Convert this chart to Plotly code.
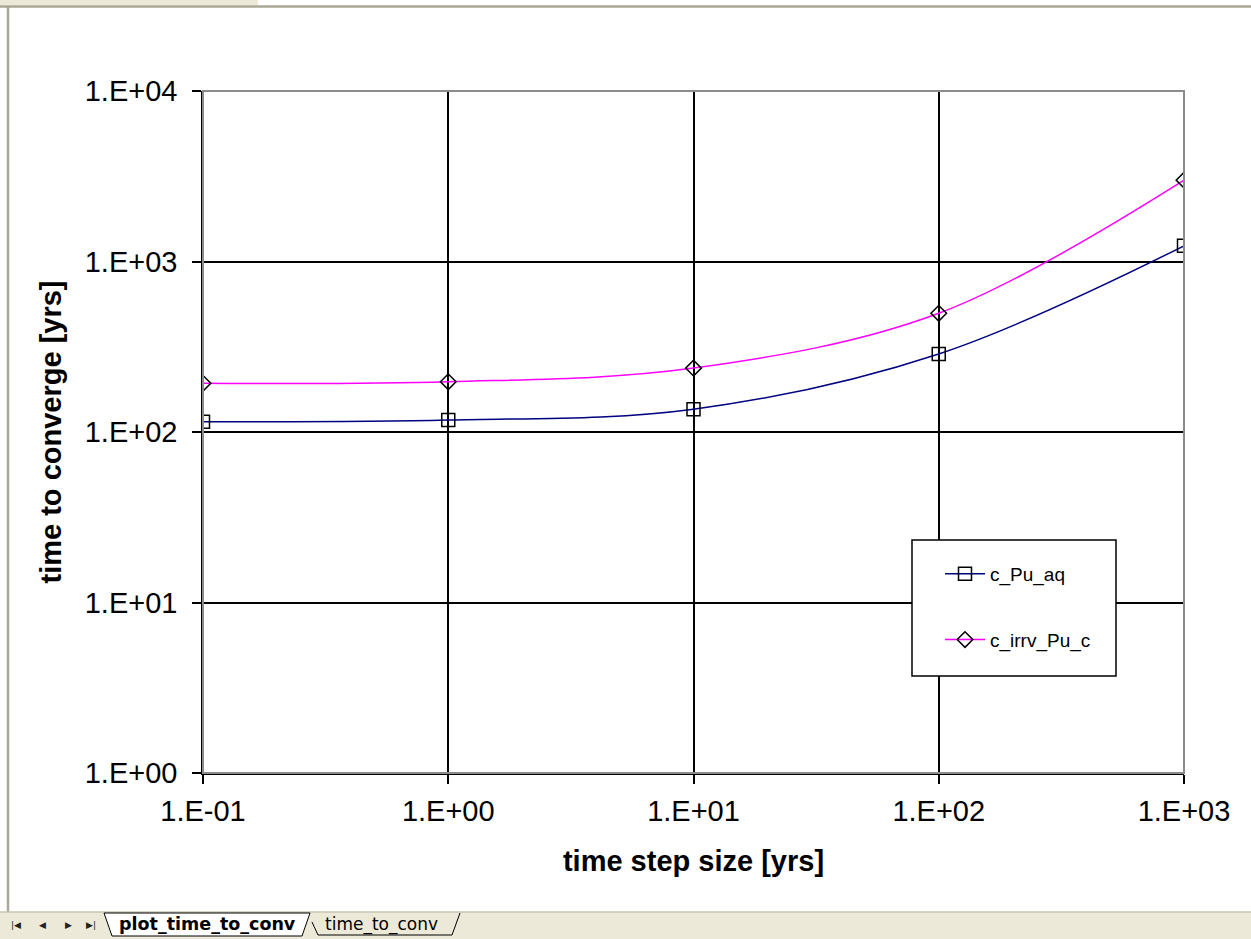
import plotly.graph_objects as go

# ---- data ----
step_size = [0.1, 1, 10, 100, 1000]
c_Pu_aq = [115, 117.5, 136, 287, 1235]
c_irrv_Pu_c = [193, 197, 237, 497, 3000]
series_names = ["c_Pu_aq", "c_irrv_Pu_c"]
x_tickvals = [0.1, 1, 10, 100, 1000]
x_ticktext = ["1.E-01", "1.E+00", "1.E+01", "1.E+02", "1.E+03"]
y_tickvals = [1, 10, 100, 1000, 10000]
y_ticktext = ["1.E+00", "1.E+01", "1.E+02", "1.E+03", "1.E+04"]
x_title = "time step size [yrs]"
y_title = "time to converge [yrs]"
sheet_tabs = ["plot_time_to_conv", "time_to_conv"]
nav_glyphs = ["|◀", "◀", "▶", "▶|"]

W, H = 1251, 939
L, R, T, B = 203, 1184, 91, 773

FONT = "Arial, 'Liberation Sans', sans-serif"
TABFONT = "Tahoma, 'DejaVu Sans', sans-serif"

fig = go.Figure()
fig.add_trace(go.Scatter(
    x=step_size, y=c_Pu_aq, name=series_names[0], legendgroup="a",
    mode="lines+markers", line=dict(color="#000080", width=1.5, shape="spline", smoothing=1),
    marker=dict(symbol="square-open", size=13, color="black", line=dict(width=1.5, color="black")),
))
fig.add_trace(go.Scatter(
    x=step_size, y=c_irrv_Pu_c, name=series_names[1], legendgroup="b",
    mode="lines+markers", line=dict(color="#FF00FF", width=1.5, shape="spline", smoothing=1),
    marker=dict(symbol="diamond-open", size=12, color="black", line=dict(width=1.5, color="black")),
))

def px_x(p):
    return (p - L) / (R - L)

def px_y(p):
    return (B - p) / (B - T)

shapes = []
# plot-area border (grey top/right)
shapes.append(dict(type="rect", xref="paper", yref="paper", x0=0, x1=1, y0=0, y1=1,
                   line=dict(color="#8c8c8c", width=2), layer="above"))
# legend box
shapes.append(dict(type="rect", xref="paper", yref="paper",
                   x0=px_x(912), x1=px_x(1116), y0=px_y(676), y1=px_y(540),
                   fillcolor="white", line=dict(color="black", width=1.5), layer="above"))
# window frame: top strip and left border
shapes.append(dict(type="rect", xref="paper", yref="paper",
                   x0=px_x(0), x1=px_x(258), y0=px_y(5), y1=px_y(0),
                   fillcolor="#ECE9D8", line=dict(width=0), layer="below"))
shapes.append(dict(type="line", xref="paper", yref="paper",
                   x0=px_x(0), x1=px_x(W), y0=px_y(6.5), y1=px_y(6.5),
                   line=dict(color="#A9A796", width=2.5), layer="above"))
shapes.append(dict(type="line", xref="paper", yref="paper",
                   x0=px_x(8), x1=px_x(8), y0=px_y(912), y1=px_y(6),
                   line=dict(color="#A9A796", width=2.5), layer="above"))
# tab bar
shapes.append(dict(type="rect", xref="paper", yref="paper",
                   x0=px_x(0), x1=px_x(W), y0=px_y(H), y1=px_y(912),
                   fillcolor="#ECE9D8", line=dict(width=0), layer="above"))
shapes.append(dict(type="line", xref="paper", yref="paper",
                   x0=px_x(0), x1=px_x(W), y0=px_y(912), y1=px_y(912),
                   line=dict(color="#C8C5B2", width=1.5), layer="above"))
# active tab (white)
shapes.append(dict(type="path", xref="paper", yref="paper",
                   path=f"M {px_x(104)},{px_y(913)} L {px_x(112)},{px_y(936)} L {px_x(302)},{px_y(936)} L {px_x(310)},{px_y(913)} Z",
                   fillcolor="white", line=dict(color="black", width=1), layer="above"))
# second tab outline
shapes.append(dict(type="path", xref="paper", yref="paper",
                   path=f"M {px_x(312)},{px_y(922)} L {px_x(318)},{px_y(935)} L {px_x(452)},{px_y(935)} L {px_x(460)},{px_y(913)}",
                   line=dict(color="black", width=1), layer="above"))

annotations = []
for gx, g in zip([16, 42, 68, 91], nav_glyphs):
    annotations.append(dict(text=g, x=px_x(gx), y=px_y(925), xref="paper", yref="paper",
                            showarrow=False, font=dict(family="DejaVu Sans", size=9, color="#222"),
                            xanchor="center", yanchor="middle"))
annotations += [
    dict(text="<b>" + sheet_tabs[0] + "</b>", x=px_x(207), y=px_y(924), xref="paper", yref="paper",
         showarrow=False, font=dict(family=TABFONT, size=17.5, color="black"),
         xanchor="center", yanchor="middle"),
    dict(text=sheet_tabs[1], x=px_x(381), y=px_y(924), xref="paper", yref="paper",
         showarrow=False, font=dict(family=TABFONT, size=17, color="black"),
         xanchor="center", yanchor="middle"),
]

fig.update_layout(
    width=W, height=H,
    margin=dict(l=L, r=W - R, t=T, b=H - B, pad=0),
    paper_bgcolor="white", plot_bgcolor="white",
    font=dict(family=FONT, color="black"),
    shapes=shapes, annotations=annotations,
    showlegend=True,
    legend=dict(x=px_x(940), y=px_y(555), xanchor="left", yanchor="top",
                bgcolor="rgba(0,0,0,0)", borderwidth=0, tracegroupgap=38,
                font=dict(family=FONT, size=19, color="black"), itemwidth=40),
    xaxis=dict(type="log", range=[-1, 3], tickmode="array", tickvals=x_tickvals, ticktext=x_ticktext,
               showgrid=True, gridcolor="black", gridwidth=1.5,
               showline=True, linecolor="black", linewidth=1.5,
               ticks="outside", ticklen=9, tickwidth=1.5, tickcolor="black",
               tickfont=dict(family=FONT, size=29), ticklabelstandoff=2,
               title=dict(text="<b>" + x_title + "</b>", font=dict(family=FONT, size=29), standoff=25),
               zeroline=False),
    yaxis=dict(type="log", range=[0, 4], tickmode="array", tickvals=y_tickvals, ticktext=y_ticktext,
               showgrid=True, gridcolor="black", gridwidth=1.5,
               showline=True, linecolor="black", linewidth=1.5,
               ticks="outside", ticklen=9, tickwidth=1.5, tickcolor="black",
               tickfont=dict(family=FONT, size=29), ticklabelstandoff=9,
               title=dict(text="<b>" + y_title + "</b>", font=dict(family=FONT, size=29), standoff=15),
               zeroline=False),
)

fig.write_html("out.html", post_script="document.body.style.margin='0';",
               config={"displayModeBar": False})
